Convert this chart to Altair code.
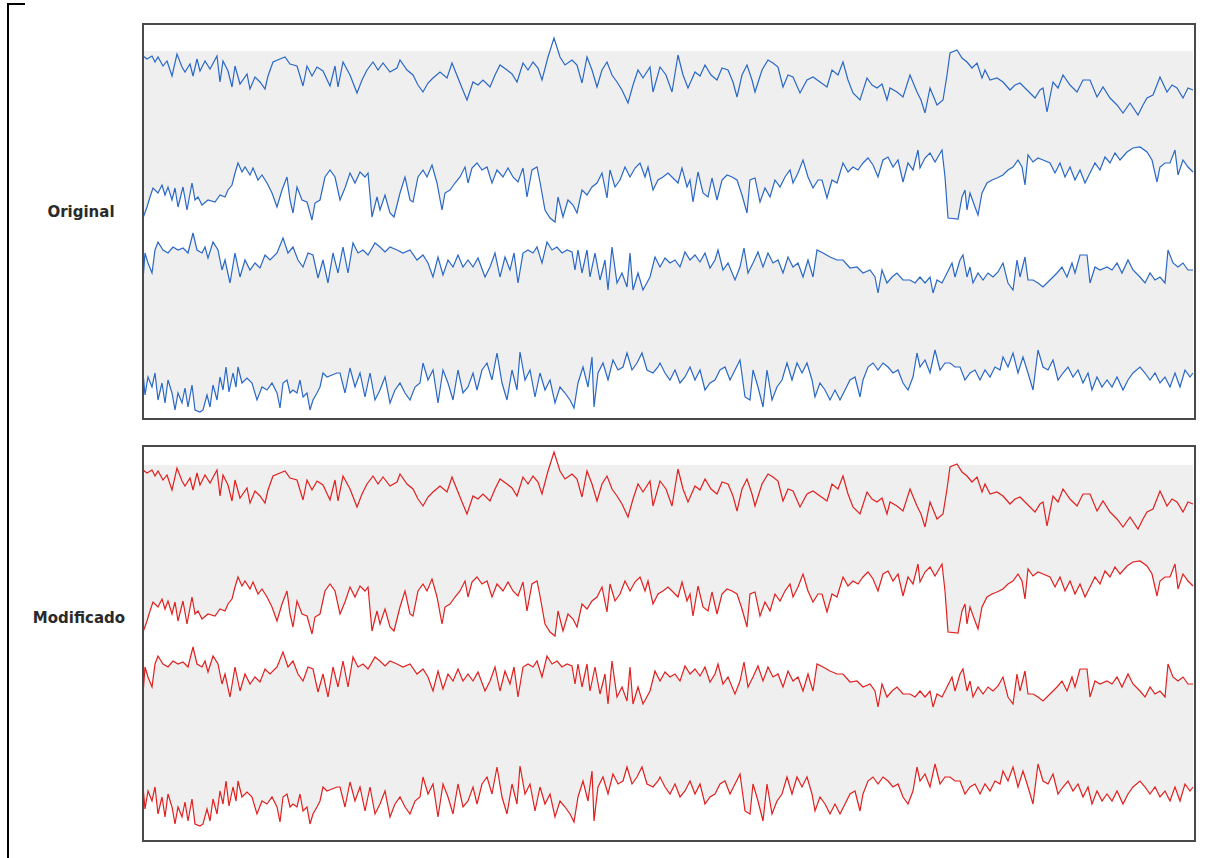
import altair as alt
import pandas as pd

# ---- traces (t = sample position, v = depth from panel top) ----
T1 = [0,4,9,12,15,20,24,29,34,39,42,47,50,54,57,62,67,74,77,80,85,89,92,97,104,107,112,117,122,125,130,137,142,147,154,160,164,169,174,180,187,192,195,200,207,214,219,224,230,235,240,247,254,257,264,270,275,280,285,290,297,304,309,315,319,324,330,335,340,347,352,357,364,369,374,380,385,390,395,399,405,411,417,422,429,434,439,444,449,454,459,464,469,474,479,485,490,495,500,507,510,517,523,529,535,540,545,552,557,562,568,574,579,585,590,594,599,604,609,612,619,625,630,635,640,645,650,657,664,670,677,684,689,695,700,705,710,717,724,729,734,739,744,747,754,760,767,774,778,782,787,794,800,804,807,814,819,824,829,834,839,842,847,854,860,867,872,877,884,892,897,900,904,910,915,920,927,934,940,947,954,960,967,974,980,987,995,1000,1004,1010,1017,1024,1029,1034,1040,1045,1050]
V1 = [32,35,32,38,33,42,37,52,30,43,48,40,52,35,47,37,45,32,58,37,47,63,42,60,50,65,53,58,65,52,38,35,33,40,42,62,42,52,43,47,62,42,63,38,51,69,56,46,38,46,39,48,44,36,46,51,61,68,59,54,48,54,39,54,64,76,58,61,56,63,51,41,46,50,58,39,46,38,44,56,33,14,33,41,36,41,59,33,46,63,46,38,51,58,66,79,61,46,54,43,68,43,51,68,31,51,64,48,52,41,51,56,44,46,58,73,51,41,56,68,46,36,39,43,63,51,53,69,56,53,58,63,46,51,38,56,69,76,54,61,64,60,76,64,68,73,51,68,76,89,64,81,76,51,29,26,34,38,44,39,54,46,56,54,58,66,61,59,66,74,66,64,88,58,64,51,61,68,56,56,73,63,74,81,89,79,91,81,74,71,53,68,61,64,74,64,66]

T2 = [0,4,7,10,15,19,22,25,29,32,35,40,44,49,52,55,59,65,72,77,82,85,89,92,95,99,102,107,110,115,119,124,129,134,139,144,147,150,154,159,164,169,172,177,182,187,192,197,202,207,212,217,222,225,229,234,237,242,247,251,257,262,267,270,275,280,284,289,294,299,302,307,312,317,322,325,329,334,339,344,349,354,360,365,370,375,380,384,389,394,397,402,407,412,415,420,425,430,434,439,444,449,454,459,464,467,472,477,482,487,492,497,502,505,510,515,520,525,530,535,539,544,547,550,555,560,565,569,574,579,584,589,594,599,604,607,612,617,622,627,632,637,642,647,650,655,660,665,670,675,679,684,689,694,700,705,710,715,720,725,730,735,740,745,750,755,760,765,770,775,777,782,787,792,799,802,805,815,819,822,824,827,832,835,839,844,849,854,860,865,870,875,879,882,885,890,895,900,907,912,917,922,927,932,937,942,947,952,957,962,967,972,977,984,990,997,1004,1009,1014,1017,1022,1027,1032,1035,1040,1045,1050]
V2 = [194,183,173,164,169,161,171,163,176,164,183,163,186,159,176,173,181,176,178,171,173,166,161,149,139,148,143,151,144,156,151,159,169,183,166,153,176,189,163,176,178,196,179,176,153,146,153,176,164,149,159,148,153,149,193,173,186,171,189,193,169,153,176,178,153,146,153,141,159,186,169,166,159,153,143,159,144,139,146,143,159,146,153,144,153,158,144,173,146,143,158,186,194,198,173,193,176,181,189,166,171,163,159,149,174,146,163,156,143,153,144,139,153,143,166,156,153,149,154,159,144,163,156,178,148,169,173,154,176,156,151,153,156,171,189,156,154,178,164,173,156,163,153,146,159,149,136,153,164,156,156,174,156,159,139,148,143,146,139,134,141,153,136,133,143,136,158,139,146,126,144,134,129,138,126,153,194,195,173,166,186,169,183,191,169,159,156,154,151,146,143,136,143,161,131,138,134,136,139,149,139,153,143,156,146,159,149,139,146,133,139,129,136,128,124,123,128,136,158,143,139,139,126,151,136,143,148]

T3 = [0,2,5,9,12,15,20,25,30,35,40,45,50,54,59,62,65,70,75,79,82,87,92,97,102,107,112,117,122,127,134,140,145,150,155,160,165,170,175,180,185,190,195,200,205,210,215,220,225,232,237,242,247,254,260,267,274,280,285,290,295,300,305,310,315,320,325,330,335,342,347,352,357,362,367,371,375,380,385,390,394,399,404,409,414,419,424,429,432,435,439,444,447,452,457,462,465,469,474,479,484,487,490,495,500,507,512,517,522,527,532,537,542,547,552,557,562,567,572,575,580,585,592,597,601,605,610,615,620,625,630,635,640,645,650,655,660,665,670,674,680,687,694,700,707,714,720,727,732,735,739,744,749,754,760,767,772,777,782,787,790,794,799,804,809,812,817,820,824,827,830,835,840,845,850,855,860,865,870,874,877,882,885,890,895,900,907,914,919,924,929,932,937,944,947,952,957,964,969,974,979,985,990,997,1002,1007,1012,1017,1022,1025,1030,1035,1040,1045,1050]
V3 = [256,229,239,249,226,218,226,229,223,226,224,229,209,226,229,223,234,218,226,246,236,259,229,253,236,246,239,244,231,236,229,214,229,223,236,243,229,231,254,236,259,229,249,223,249,219,229,226,231,219,223,228,223,226,229,226,236,231,239,253,233,251,236,243,231,243,236,243,234,253,243,229,253,233,246,229,259,229,226,229,223,239,218,226,223,229,226,228,246,226,249,226,253,229,256,236,266,223,259,249,263,229,266,249,266,253,233,243,234,239,236,243,228,236,231,238,229,244,236,226,246,239,256,243,224,249,239,228,243,229,239,236,249,233,243,239,253,236,253,226,229,233,236,236,244,243,249,246,253,269,246,259,253,249,256,256,259,253,259,253,269,256,259,249,239,253,236,231,253,243,259,249,256,249,253,248,239,259,266,236,253,233,256,256,259,263,256,249,243,253,239,249,231,231,259,243,246,243,246,239,249,236,246,253,259,249,256,253,259,226,239,243,239,246,246]

T4 = [0,2,5,9,12,15,19,22,25,29,32,35,39,42,45,49,52,57,60,64,67,70,74,77,80,83,86,90,93,95,99,104,109,114,119,124,129,134,137,140,144,147,150,154,157,160,164,167,170,174,177,180,184,189,194,197,202,207,212,217,222,227,232,237,242,247,252,257,262,267,272,277,280,285,290,295,300,305,310,315,320,325,330,334,339,344,349,354,359,364,369,374,377,382,387,392,397,402,407,412,417,422,427,431,435,440,445,449,451,455,460,465,470,475,480,484,489,494,499,504,510,515,517,522,527,532,537,542,547,552,557,562,567,572,577,582,587,592,597,602,607,610,615,620,624,629,634,639,644,649,654,659,664,669,672,677,682,687,692,697,702,707,712,717,720,725,730,735,740,745,750,755,760,765,770,774,777,782,787,792,797,802,807,812,817,822,827,832,837,842,847,852,857,860,865,870,875,880,885,890,895,900,905,910,915,920,925,930,935,940,945,949,954,959,964,969,974,980,985,990,997,1002,1007,1012,1017,1022,1027,1032,1037,1042,1047,1050]
V4 = [349,371,353,363,349,376,359,379,356,369,386,369,379,364,383,361,386,388,386,371,383,361,376,353,366,343,368,349,363,343,359,354,359,376,363,366,359,369,384,359,356,369,366,369,356,373,369,386,376,369,363,349,353,351,349,349,369,344,363,349,373,349,376,366,353,379,366,359,369,376,363,359,339,356,346,379,346,359,376,346,369,363,349,366,346,339,356,329,359,376,346,366,328,356,346,373,349,366,356,379,363,369,376,384,359,343,363,333,383,349,339,356,336,346,343,329,346,339,329,346,349,343,339,349,356,346,359,353,343,356,346,366,359,356,346,343,356,346,336,373,376,346,363,383,346,376,363,356,339,356,339,349,339,356,373,359,366,376,366,376,366,356,353,373,356,343,339,346,339,343,349,346,359,366,353,329,343,336,349,326,346,339,339,343,343,356,349,346,356,346,353,343,346,333,343,329,349,333,349,366,326,343,346,336,356,349,343,353,346,359,349,366,353,363,356,363,353,366,356,349,343,349,356,349,359,353,363,349,363,346,353,349]

TRACES = {"c1": (T1, V1), "c2": (T2, V2), "c3": (T3, V3), "c4": (T4, V4)}
PANELS = ["Original", "Modificado"]
COLORS = ["#2a68c6", "#e0201f"]

panel_top = {"Original": 0, "Modificado": 422}     # frame offset
trace_shift = {"Original": 0, "Modificado": 414}   # trace offset
PANEL_W, PANEL_H = 1052, 395
BAND_TOP = 27      # flat top of first grey band (panel units)
BAND_MID = 204     # flat boundary between channel 2 and channel 3

W, H = 1220, 858
xs = alt.Scale(domain=[-143, W - 143], nice=False, zero=False)
ys = alt.Scale(domain=[-24, H - 24], nice=False, zero=False, reverse=True)

rows = []
for p in PANELS:
    s = trace_shift[p]
    for name, (ts, vs) in TRACES.items():
        for t, v in zip(ts, vs):
            rows.append({"panel": p, "trace": name, "t": t, "y": v + s})
lines_df = pd.DataFrame(rows)


def band(p, trace, flat, fill):
    s = trace_shift[p]
    ts, vs = TRACES[trace]
    df = pd.DataFrame({"t": ts, "y": [v + s for v in vs], "y0": [flat + s] * len(ts)})
    return alt.Chart(df).mark_area(fill=fill, opacity=1, interpolate="linear").encode(
        x=alt.X("t:Q", scale=xs, axis=None),
        y=alt.Y("y:Q", scale=ys, axis=None),
        y2=alt.Y2("y0:Q"),
    )


bands = []
for p in PANELS:
    bands.append(band(p, "c2", BAND_TOP, "#efefef"))
    bands.append(band(p, "c4", BAND_MID, "#efefef"))
    bands.append(band(p, "c3", BAND_MID, "#ffffff"))

lines = alt.Chart(lines_df).mark_line(strokeWidth=1.2, interpolate="linear").encode(
    x=alt.X("t:Q", scale=xs, axis=None),
    y=alt.Y("y:Q", scale=ys, axis=None),
    color=alt.Color("panel:N", scale=alt.Scale(domain=PANELS, range=COLORS), legend=None),
    detail="trace:N",
    order="t:Q",
)

frames_df = pd.DataFrame([{"panel": p, "t0": 0, "t1": PANEL_W, "y0": panel_top[p], "y1": panel_top[p] + PANEL_H} for p in PANELS])
frames = alt.Chart(frames_df).mark_rect(fillOpacity=0, stroke="#4a4a4a", strokeWidth=2).encode(
    x=alt.X("t0:Q", scale=xs, axis=None), x2="t1:Q",
    y=alt.Y("y0:Q", scale=ys, axis=None), y2="y1:Q",
)

labels_df = pd.DataFrame([
    {"label": "Original", "t": -62, "y": 188},
    {"label": "Modificado", "t": -64, "y": 594},
])
labels = alt.Chart(labels_df).mark_text(
    font="DejaVu Sans", fontWeight="bold", fontSize=15, color="#2a2a2a",
    align="center", baseline="middle").encode(
    x=alt.X("t:Q", scale=xs, axis=None),
    y=alt.Y("y:Q", scale=ys, axis=None),
    text="label:N",
)

edge_left = alt.Chart(pd.DataFrame({"a": [0]})).mark_rule(color="#000000", strokeWidth=2).encode(
    x=alt.value(8), y=alt.value(3), y2=alt.value(H))
edge_top = alt.Chart(pd.DataFrame({"a": [0]})).mark_rule(color="#000000", strokeWidth=2).encode(
    x=alt.value(7), x2=alt.value(25), y=alt.value(4))

chart = alt.layer(*bands, lines, frames, labels, edge_left, edge_top).properties(
    width=W, height=H, padding=0, autosize=alt.AutoSizeParams(type="none"),
    background="#ffffff",
).configure_view(stroke=None)

chart.save("out.html", embed_options={"renderer": "svg", "actions": False})
